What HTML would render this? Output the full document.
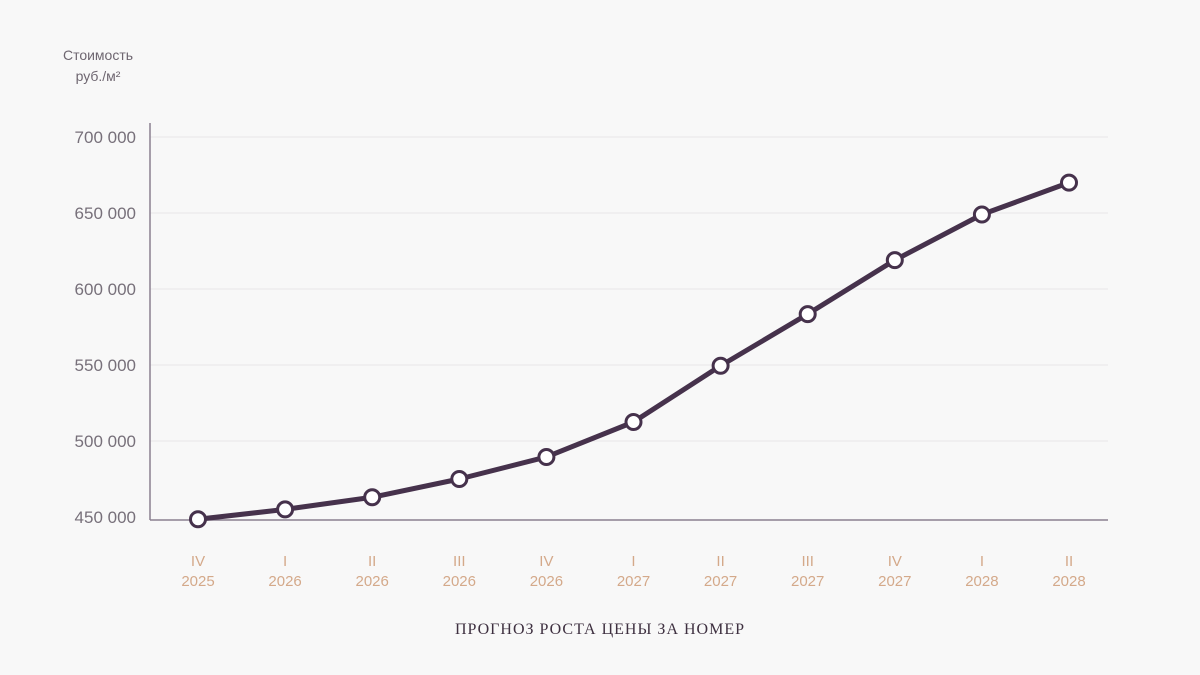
<!DOCTYPE html>
<html><head><meta charset="utf-8"><style>
html,body{margin:0;padding:0;background:#f8f8f8;}
svg{display:block;font-family:"Liberation Sans",sans-serif;}
</style></head><body>
<svg id="chart" width="1200" height="675" viewBox="0 0 1200 675">
<rect width="1200" height="675" fill="#f8f8f8"/>
<text x="98" y="60" text-anchor="middle" font-size="14" fill="#6e6670">Стоимость</text>
<text x="98" y="81" text-anchor="middle" font-size="14" fill="#6e6670">руб./м²</text>
<g id="grid"></g><g id="yt"></g><g id="xt"></g>
<line x1="150" y1="123" x2="150" y2="520" stroke="#8a8090" stroke-width="1.5"/>
<line x1="150" y1="520" x2="1108" y2="520" stroke="#8a8090" stroke-width="1.5"/>
<g id="series"></g>
<text x="600" y="634" text-anchor="middle" font-size="16" letter-spacing="1" fill="#3e3040" font-family="Liberation Serif, serif">ПРОГНОЗ РОСТА ЦЕНЫ ЗА НОМЕР</text>
</svg>
<script>
const quarters=["IV","I","II","III","IV","I","II","III","IV","I","II"];
const years=["2025","2026","2026","2026","2026","2027","2027","2027","2027","2028","2028"];
const values=[448500,455000,463000,475000,489500,512500,549500,583500,619000,649000,670000];
const yTicks=[450000,500000,550000,600000,650000,700000];
const yTickLabels=["450 000","500 000","550 000","600 000","650 000","700 000"];
const NS="http://www.w3.org/2000/svg";
function yS(v){return 517-(v-450000)/50000*76;}
function xS(i){return 198+i*87.1;}
function mk(t,a,p){const e=document.createElementNS(NS,t);for(const k in a)e.setAttribute(k,a[k]);p.appendChild(e);return e;}
const grid=document.getElementById('grid'),yt=document.getElementById('yt'),xt=document.getElementById('xt'),ser=document.getElementById('series');
yTicks.forEach((v,i)=>{
 if(v>450000){const g=mk('line',{x1:150,x2:1108,y1:yS(v),y2:yS(v),stroke:'#e8e6e8','stroke-width':1},grid);
 
 }
 const t=mk('text',{x:136,y:yS(v)+6,'text-anchor':'end','font-size':17,fill:'#77707a'},yt);
 t.textContent=yTickLabels[i];
 
 
});
quarters.forEach((q,i)=>{
 const a=mk('text',{x:xS(i),y:566,'text-anchor':'middle','font-size':15,fill:'#d4a98a'},xt);a.textContent=q;
 
 
 const b=mk('text',{x:xS(i),y:586,'text-anchor':'middle','font-size':15,fill:'#d4a98a'},xt);b.textContent=years[i];
 
 
});
const pl=mk('polyline',{points:values.map((v,i)=>xS(i)+','+yS(v)).join(' '),fill:'none',stroke:'#46324c','stroke-width':5,'stroke-linejoin':'round'},ser);


values.forEach((v,i)=>{
 const c=mk('circle',{cx:xS(i),cy:yS(v),r:7.5,fill:'#fff',stroke:'#46324c','stroke-width':3},ser);
 
 
});
</script>
</body></html>
